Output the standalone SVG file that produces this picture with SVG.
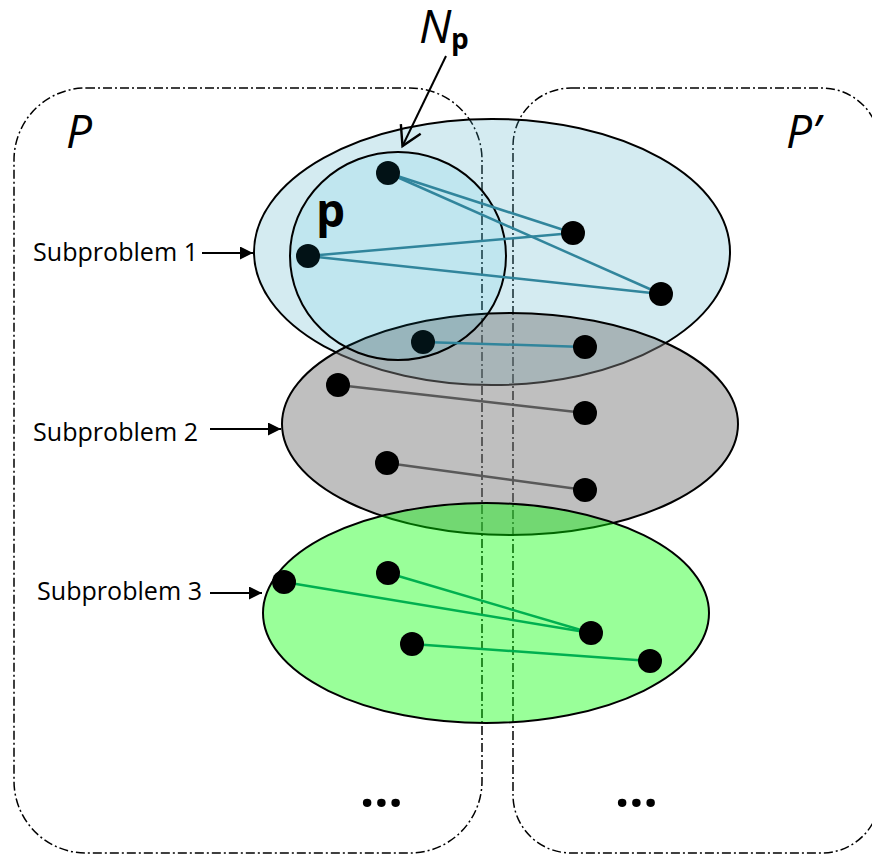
<svg xmlns="http://www.w3.org/2000/svg" width="872" height="854" viewBox="0 0 872 854">
  <style>
    .region { fill: none; stroke: #000; stroke-width: 1.5; stroke-dasharray: 9 3 2 3; }
    .ell { stroke: #000; stroke-width: 2; }
    .dot { fill: #000; }
    .dotin { fill: #021216; }
    .eb { stroke: #31859c; stroke-width: 2.5; fill: none; }
    .eg { stroke: #595959; stroke-width: 2.5; fill: none; }
    .en { stroke: #00b050; stroke-width: 2.5; fill: none; }
    .arr { stroke: #000; stroke-width: 2; fill: none; }
    .lbl { font-family: "Open Sans", "Liberation Sans", sans-serif; font-size: 25px; fill: #000; }
    .big { font-family: "Open Sans", "Liberation Sans", sans-serif; font-style: italic; font-size: 46px; fill: #000; }
    .bold { font-family: "Open Sans", "Liberation Sans", sans-serif; font-weight: bold; fill: #000; }
  </style>
  <defs>
    <marker id="tri" markerUnits="userSpaceOnUse" viewBox="0 0 13 13" markerWidth="13" markerHeight="13" refX="13" refY="6.5" orient="auto">
      <path d="M0,0 L13,6.5 L0,13 Z" fill="#000"/>
    </marker>
    <marker id="open" markerUnits="userSpaceOnUse" viewBox="-22 -13 26 26" markerWidth="26" markerHeight="26" refX="0" refY="0" orient="auto">
      <path d="M-19,-11 L0,0 L-19,11" fill="none" stroke="#000" stroke-width="2.4"/>
    </marker>
  </defs>

  <g id="regions">
    <rect id="region-P" class="region" x="14" y="88" width="468" height="765" rx="72" ry="72"/>
    <rect id="region-Pprime" class="region" x="513" y="88" width="367" height="765" rx="58" ry="58"/>
    <text class="big" x="66" y="148">P</text>
    <text class="big" x="786" y="148">P’</text>
  </g>

  <g id="subproblem1">
    <ellipse class="ell" cx="492" cy="252" rx="238" ry="133" fill="#4bacc6" fill-opacity="0.24"/>
  </g>
  <g id="subproblem2">
    <ellipse class="ell" cx="510" cy="424" rx="228" ry="111" fill="#7a7a7a" fill-opacity="0.48"/>
  </g>
  <g id="neighborhood-Np">
    <ellipse class="ell" cx="398" cy="256" rx="108" ry="104" fill="#17b9dd" fill-opacity="0.1"/>
    <text class="bold" x="316" y="227" font-size="46">p</text>
  </g>
  <g id="subproblem3">
    <ellipse class="ell" cx="486" cy="613" rx="223" ry="110" fill="#00ff00" fill-opacity="0.4"/>
  </g>

  <g id="connectors">
    <line class="eb" x1="388" y1="173" x2="573" y2="233"/>
    <line class="eb" x1="388" y1="173" x2="661" y2="294"/>
    <line class="eb" x1="308" y1="256" x2="573" y2="233"/>
    <line class="eb" x1="308" y1="256" x2="661" y2="294"/>
    <line class="eb" x1="423" y1="342" x2="585" y2="347"/>
    <line class="eg" x1="338" y1="385" x2="585" y2="413"/>
    <line class="eg" x1="387" y1="463" x2="585" y2="490"/>
    <line class="en" x1="284" y1="582" x2="591" y2="633"/>
    <line class="en" x1="388" y1="573" x2="591" y2="633"/>
    <line class="en" x1="412" y1="644" x2="650" y2="661"/>
    <line class="arr" x1="202" y1="253" x2="253" y2="253" marker-end="url(#tri)"/>
    <line class="arr" x1="210" y1="429" x2="281" y2="429" marker-end="url(#tri)"/>
    <line class="arr" x1="210" y1="593" x2="262" y2="593" marker-end="url(#tri)"/>
    <line class="arr" x1="446" y1="56" x2="402.5" y2="146" stroke-width="2.4" marker-end="url(#open)"/>
  </g>

  <g id="n1"><circle class="dotin" cx="388" cy="173" r="12"/></g>
  <g id="n2"><circle class="dotin" cx="308" cy="256" r="12"/></g>
  <g id="n3"><circle class="dot" cx="573" cy="233" r="12"/></g>
  <g id="n4"><circle class="dot" cx="661" cy="294" r="12"/></g>
  <g id="n5"><circle class="dotin" cx="423" cy="342" r="12"/></g>
  <g id="n6"><circle class="dot" cx="585" cy="347" r="12"/></g>
  <g id="n7"><circle class="dot" cx="338" cy="385" r="12"/></g>
  <g id="n8"><circle class="dot" cx="585" cy="413" r="12"/></g>
  <g id="n9"><circle class="dot" cx="387" cy="463" r="12"/></g>
  <g id="n10"><circle class="dot" cx="585" cy="490" r="12"/></g>
  <g id="n11"><circle class="dot" cx="284" cy="582" r="12"/></g>
  <g id="n12"><circle class="dot" cx="388" cy="573" r="12"/></g>
  <g id="n13"><circle class="dot" cx="591" cy="633" r="12"/></g>
  <g id="n14"><circle class="dot" cx="412" cy="644" r="12"/></g>
  <g id="n15"><circle class="dot" cx="650" cy="661" r="12"/></g>

  <g id="labels">
    <text class="lbl" x="33" y="261" textLength="165" lengthAdjust="spacingAndGlyphs">Subproblem 1</text>
    <text class="lbl" x="33" y="441" textLength="165" lengthAdjust="spacingAndGlyphs">Subproblem 2</text>
    <text class="lbl" x="37" y="600" textLength="165" lengthAdjust="spacingAndGlyphs">Subproblem 3</text>
    <text class="big" x="419" y="43" font-size="46">N</text>
    <text class="bold" x="451" y="49" font-size="28">p</text>
    <text class="bold" x="360" y="807" font-size="50">...</text>
    <text class="bold" x="615" y="807" font-size="50">...</text>
  </g>
</svg>
